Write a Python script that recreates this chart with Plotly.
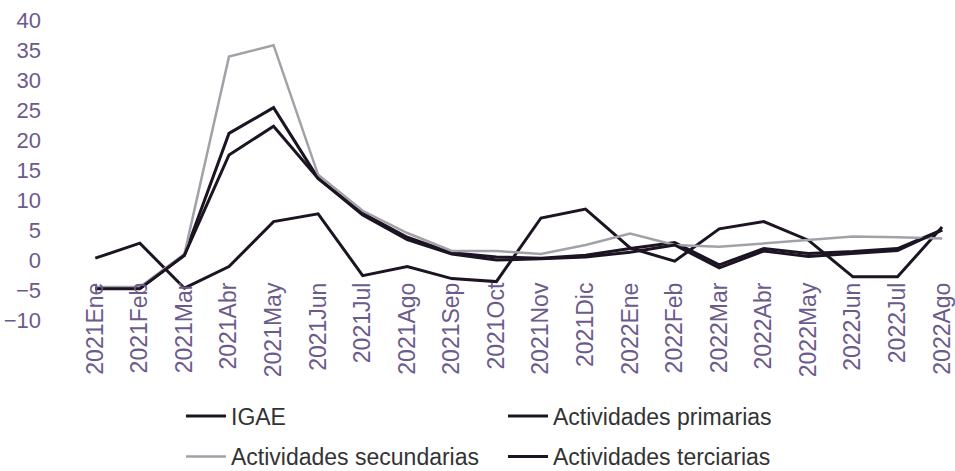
import plotly.graph_objects as go

categories = ["2021Ene", "2021Feb", "2021Mar", "2021Abr", "2021May", "2021Jun", "2021Jul",
              "2021Ago", "2021Sep", "2021Oct", "2021Nov", "2021Dic", "2022Ene", "2022Feb",
              "2022Mar", "2022Abr", "2022May", "2022Jun", "2022Jul", "2022Ago"]

igae = [-4.7, -4.7, 0.8, 21.1, 25.4, 13.6, 7.8, 3.8, 1.2, 0.5, 0.3, 0.8, 1.9, 2.9, -0.8, 1.9, 1.1, 1.4, 1.9, 5.0]
primarias = [0.3, 2.8, -4.7, -1.1, 6.4, 7.7, -2.6, -1.1, -3.1, -3.6, 7.0, 8.5, 2.0, -0.2, 5.2, 6.4, 3.3, -2.8, -2.8, 5.5]
secundarias = [-4.5, -4.5, 1.0, 33.9, 35.8, 14.2, 8.2, 4.5, 1.5, 1.5, 1.0, 2.5, 4.4, 2.5, 2.2, 2.8, 3.3, 3.9, 3.8, 3.6]
terciarias = [-4.8, -4.8, 0.8, 17.5, 22.3, 13.6, 7.5, 3.4, 1.0, 0.0, 0.2, 0.5, 1.3, 2.5, -1.3, 1.5, 0.6, 1.1, 1.6, 5.0]

y_ticks = [-10, -5, 0, 5, 10, 15, 20, 25, 30, 35, 40]

dark = "#1c1422"
gray = "#a3a1a8"
tick_color = "#6b5b8c"
font_family = "Liberation Sans, Arial, sans-serif"

fig = go.Figure()
fig.add_trace(go.Scatter(x=categories, y=igae, name="IGAE", mode="lines",
                         line=dict(color=dark, width=3), legend="legend"))
fig.add_trace(go.Scatter(x=categories, y=primarias, name="Actividades primarias", mode="lines",
                         line=dict(color=dark, width=3), legend="legend"))
fig.add_trace(go.Scatter(x=categories, y=secundarias, name="Actividades secundarias", mode="lines",
                         line=dict(color=gray, width=2.5), legend="legend2"))
fig.add_trace(go.Scatter(x=categories, y=terciarias, name="Actividades terciarias", mode="lines",
                         line=dict(color=dark, width=3), legend="legend2"))

legend_common = dict(orientation="h", xanchor="left", yanchor="middle",
                     entrywidth=267, entrywidthmode="pixels",
                     font=dict(family=font_family, size=23, color="#333333"),
                     bgcolor="rgba(0,0,0,0)", itemwidth=40, tracegroupgap=0)

fig.update_layout(
    width=955, height=471,
    margin=dict(l=73, r=4, t=20, b=151, autoexpand=False),
    paper_bgcolor="white", plot_bgcolor="white",
    showlegend=True,
    legend=dict(x=0.123, y=-0.32, **legend_common),
    legend2=dict(x=0.123, y=-0.455, **legend_common),
    xaxis=dict(type="category", range=[-0.5, 19.2], tickangle=-90, automargin=False,
               showgrid=False, showline=False, zeroline=False, ticks="",
               ticklabelstandoff=-43,
               tickfont=dict(family=font_family, size=23, color=tick_color)),
    yaxis=dict(range=[-10, 40], tickvals=y_ticks, showgrid=False, showline=False,
               zeroline=False, ticks="", ticklabelstandoff=31, automargin=False,
               tickfont=dict(family=font_family, size=22, color=tick_color)),
)

fig.write_html("out.html", config={"displayModeBar": False},
               post_script="document.body.style.margin='0px';")
